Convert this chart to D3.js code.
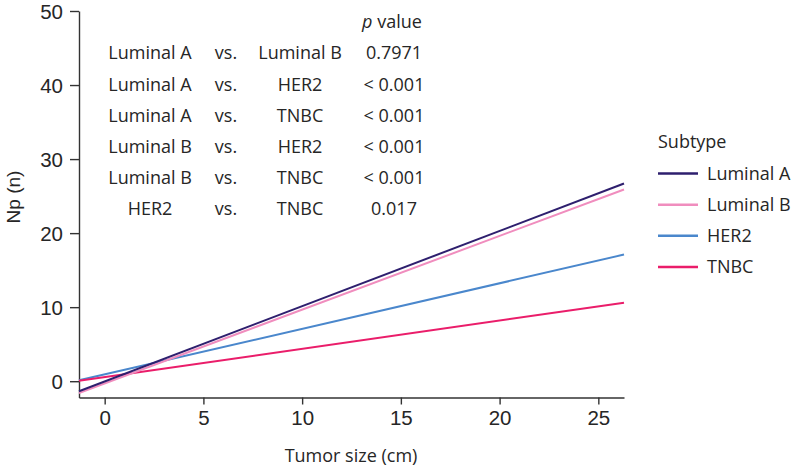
<!DOCTYPE html>
<html>
<head>
<meta charset="utf-8">
<script src="https://cdn.jsdelivr.net/npm/d3@7/dist/d3.min.js"></script>
<style>
  html, body { margin: 0; padding: 0; background: #fff; }
  svg { display: block; }
</style>
</head>
<body>
<svg id="chart" width="795" height="468"></svg>
<script>
// ---- data ----
const subtypes = ["Luminal A", "Luminal B", "HER2", "TNBC"];
const colors = ["#2e1f6e", "#f08dbe", "#4a87cc", "#ea1d6a"];
const xEnds = [-1.3, 26.3];
const lumA = [-1.35, 26.7];
const lumB = [-1.6, 25.9];
const her2 = [0.13, 17.1];
const tnbc = [0.05, 10.6];
const seriesValues = [lumA, lumB, her2, tnbc];
const xTicks = [0, 5, 10, 15, 20, 25];
const yTicks = [0, 10, 20, 30, 40, 50];
const cmpLeft = ["Luminal A", "Luminal A", "Luminal A", "Luminal B", "Luminal B", "HER2"];
const cmpRight = ["Luminal B", "HER2", "TNBC", "HER2", "TNBC", "TNBC"];
const pValues = ["0.7971", "< 0.001", "< 0.001", "< 0.001", "< 0.001", "0.017"];

// ---- layout ----
const svg = d3.select("#chart");
const x = d3.scaleLinear().domain([-1.3, 26.3]).range([79, 624]);
const y = d3.scaleLinear().domain([-2.2, 50]).range([397.5, 11]);
const axisFont = "'Liberation Sans', Arial, sans-serif";
const textFont = "'Open Sans', 'Noto Sans', sans-serif";
const ink = "#262626";

// axes
const xAxis = svg.append("g").attr("transform", "translate(0,397.5)")
  .call(d3.axisBottom(x).tickValues(xTicks).tickSize(7).tickPadding(6).tickSizeOuter(0));
const yAxis = svg.append("g").attr("transform", "translate(79,0)")
  .call(d3.axisLeft(y).tickValues(yTicks).tickSize(9).tickPadding(7).tickSizeOuter(0));
[xAxis, yAxis].forEach(a => {
  a.select(".domain").attr("stroke", "#333").attr("stroke-width", 1.4);
  a.selectAll(".tick line").attr("stroke", "#333").attr("stroke-width", 1.4);
  a.selectAll(".tick text").attr("fill", ink).attr("font-family", axisFont).attr("font-size", 20.5);
});
yAxis.selectAll(".tick text").attr("dy", "0.36em");

// axis titles
svg.append("text").attr("x", 351).attr("y", 462)
  .attr("text-anchor", "middle").attr("font-family", textFont).attr("font-size", 18)
  .attr("fill", ink).text("Tumor size (cm)");
svg.append("text").attr("transform", "translate(19.5,197) rotate(-90)")
  .attr("text-anchor", "middle").attr("font-family", axisFont).attr("font-size", 19)
  .attr("fill", ink).text("Np (n)");

// lines
const line = d3.line().x(d => x(d[0])).y(d => y(d[1]));
const plotOrder = [2, 3, 1, 0];
plotOrder.forEach(i => {
  const pts = xEnds.map((xv, j) => [xv, seriesValues[i][j]]);
  svg.append("path").datum(pts).attr("d", line)
    .attr("fill", "none").attr("stroke", colors[i]).attr("stroke-width", 2);
});

// p value table
const rowY = d3.scalePoint().domain(d3.range(cmpLeft.length)).range([53, 209]);
const tbl = svg.append("g").attr("font-family", textFont).attr("font-size", 18)
  .attr("fill", ink).attr("text-anchor", "middle");
const hdr = tbl.append("text").attr("x", 392).attr("y", 22).attr("dy", "0.35em");
hdr.append("tspan").attr("font-style", "italic").text("p");
hdr.append("tspan").text(" value");
cmpLeft.forEach((d, i) => {
  const yy = rowY(i);
  tbl.append("text").attr("x", 150).attr("y", yy).attr("dy", "0.35em").text(d);
  tbl.append("text").attr("x", 226).attr("y", yy).attr("dy", "0.35em").text("vs.");
  tbl.append("text").attr("x", 300).attr("y", yy).attr("dy", "0.35em").text(cmpRight[i]);
  tbl.append("text").attr("x", 394).attr("y", yy).attr("dy", "0.35em").text(pValues[i]);
});

// legend
const leg = svg.append("g").attr("font-family", textFont).attr("font-size", 18).attr("fill", ink);
leg.append("text").attr("x", 658).attr("y", 142).attr("dy", "0.35em").text("Subtype");
const legY = d3.scalePoint().domain(subtypes).range([173.5, 267]);
subtypes.forEach((s, i) => {
  leg.append("line").attr("x1", 658).attr("x2", 698).attr("y1", legY(s)).attr("y2", legY(s))
    .attr("stroke", colors[i]).attr("stroke-width", 2.5);
  leg.append("text").attr("x", 707).attr("y", legY(s)).attr("dy", "0.35em").text(s);
});
</script>
</body>
</html>
